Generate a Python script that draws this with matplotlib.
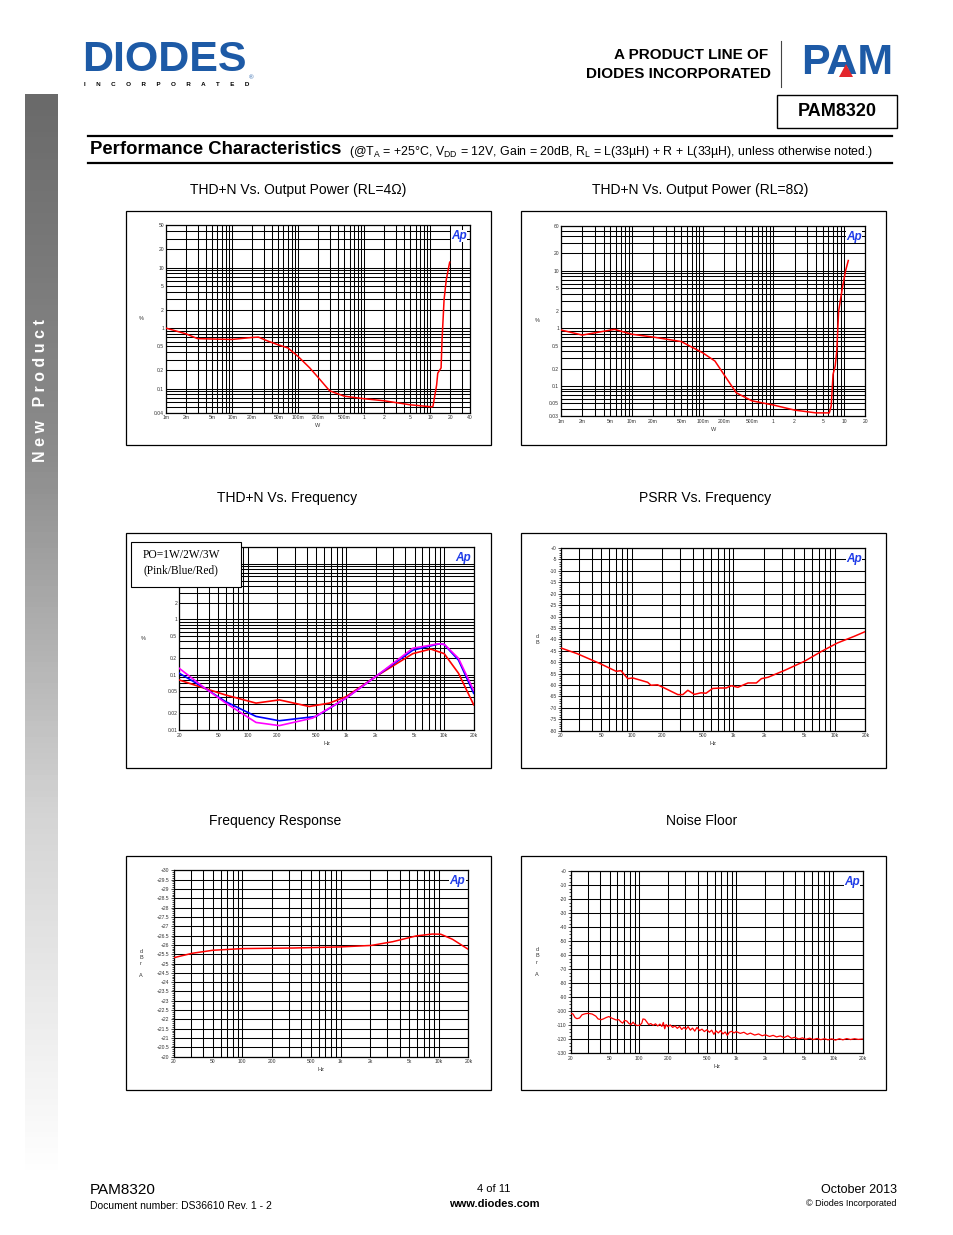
import numpy as np
import matplotlib
matplotlib.use("Agg")
import matplotlib.pyplot as plt
from matplotlib.patches import Rectangle, Polygon
from matplotlib.ticker import FixedLocator, LogLocator, NullFormatter, MultipleLocator
from matplotlib.colors import LinearSegmentedColormap

plt.rcParams['font.family'] = ['Liberation Sans', 'DejaVu Sans']
plt.rcParams['mathtext.default'] = 'regular'

# ---- data ----
# THD+N vs output power, RL=4 ohm
p4_w = [0.001, 0.002, 0.003, 0.005, 0.01, 0.02, 0.025, 0.035, 0.05, 0.07, 0.1, 0.15, 0.2, 0.3,
        0.5, 1, 2, 5, 10.5, 11, 12.5, 13, 14.6, 15.1, 16.2, 17.5, 19.7]
p4_thd = [1.0, 0.805, 0.67, 0.66, 0.65, 0.70, 0.71, 0.61, 0.53, 0.47, 0.34, 0.22, 0.154, 0.092,
          0.075, 0.068, 0.063, 0.054, 0.05, 0.051, 0.115, 0.18, 0.22, 0.64, 2.95, 6.3, 12.3]

# THD+N vs output power, RL=8 ohm
p8_w = [0.001, 0.002, 0.0057, 0.01, 0.02, 0.05, 0.1, 0.15, 0.2, 0.3, 0.5, 1, 2, 4, 6.2,
        6.6, 7.0, 7.5, 7.9, 8.4, 9.5, 10.5, 11.5]
p8_thd = [0.935, 0.765, 0.96, 0.79, 0.706, 0.59, 0.378, 0.27, 0.159, 0.076, 0.055, 0.0466, 0.038,
          0.034, 0.034, 0.045, 0.159, 0.22, 0.40, 2.0, 5.1, 9.9, 15.1]

# THD+N vs frequency (1W pink, 2W blue, 3W red)
f_red = [20, 37, 59, 121, 209, 422, 675, 1000, 2000, 4800, 7300, 10000, 14000, 20000]
thd_red = [0.080, 0.056, 0.043, 0.0306, 0.035, 0.0266, 0.0306, 0.040, 0.092, 0.24, 0.29, 0.24, 0.106, 0.0285]
f_blue = [20, 37, 59, 121, 209, 496, 1000, 2000, 4800, 8900, 10000, 14000, 20000]
thd_blue = [0.106, 0.056, 0.0327, 0.0176, 0.0147, 0.0176, 0.0376, 0.092, 0.277, 0.36, 0.35, 0.183, 0.046]
f_pink = [20, 37, 59, 121, 209, 456, 1000, 2000, 4800, 8600, 10000, 14000, 20000]
thd_pink = [0.13, 0.056, 0.031, 0.0137, 0.0120, 0.0164, 0.0376, 0.092, 0.30, 0.36, 0.355, 0.197, 0.052]

# PSRR vs frequency
psrr_f = [20, 29, 49, 70, 78, 91, 102, 143, 154, 179, 209, 284, 318, 356, 413, 481, 538, 626,
          755, 849, 955, 1109, 1394, 1686, 1892, 2199, 3199, 5024, 7310, 10600, 15500, 20000]
psrr_db = [-43.8, -46.3, -50.7, -54.0, -53.7, -57.2, -56.9, -58.8, -60.1, -59.9, -61.3, -64.2,
           -64.2, -62.3, -64.1, -63.4, -63.6, -61.5, -61.3, -61.3, -60.3, -61.0, -59.1, -59.1,
           -57.2, -56.6, -53.6, -49.6, -45.4, -41.6, -38.7, -36.6]

# Frequency response
fr_f = [20, 31, 50, 101, 326, 1000, 2060, 3400, 5900, 8600, 10500, 13800, 20000]
fr_db = [25.31, 25.55, 25.71, 25.80, 25.83, 25.89, 25.97, 26.17, 26.48, 26.58, 26.57, 26.30, 25.76]

# Noise floor
nf_f = [20, 21, 22, 23, 24.5, 26, 28, 30, 33, 36, 38, 41, 43, 46, 49, 52, 55, 58, 62, 65, 68, 71,
        75, 79, 83, 87, 91, 96, 102, 107, 110, 115, 120, 126, 132, 140, 148, 156, 164, 172, 178,
        184, 190, 198, 210, 222, 235, 248, 262, 275, 290, 305, 320, 338, 355, 375, 395, 420, 445,
        470, 500, 530, 560, 590, 620, 655, 690, 730, 770, 810, 850, 900, 950, 1000, 1100, 1200,
        1300, 1400, 1550, 1700, 1850, 2000, 2200, 2400, 2600, 2850, 3100, 3400, 3700, 4000, 4400,
        4800, 5200, 5700, 6200, 6800, 7400, 8100, 8800, 9600, 10500, 11500, 12500, 13700, 15000,
        16500, 18000, 20000]
nf_db = [-101.5, -102, -104.5, -105.3, -104.8, -102.5, -101.8, -101.5, -102, -103.5, -105.5, -106,
         -105.5, -104.5, -103.8, -104.8, -105.5, -106.2, -106, -107.5, -108.5, -106.5, -107, -108.8,
         -109.5, -107.8, -109.5, -110.2, -110, -108.5, -105.5, -105.8, -107.5, -109.5, -108.8, -110,
         -109, -110.5, -109.2, -110.8, -108, -112.5, -109.5, -111, -109.8, -111.5, -110.5, -112.2,
         -110.8, -113, -111.5, -112.8, -111, -113.5, -112, -114.2, -111.5, -113.8, -112.8, -114.5,
         -113.2, -115, -113.5, -116.5, -114, -115.5, -113.8, -116.2, -114.8, -117.2, -115, -114.3,
         -115.5, -114.5, -115.8, -115, -116.5, -115.6, -117, -116.2, -117.5, -116.8, -118, -117.2,
         -118.3, -117.6, -118.8, -117.5, -119.3, -118.6, -119.8, -119, -120, -119.2, -120.2, -119.4,
         -120.3, -119.6, -120.4, -119.7, -120.6, -119.6, -120.4, -119.5, -120.2, -119.6, -120.1, -119.8]

hz_ticks = [20, 50, 100, 200, 500, 1000, 2000, 5000, 10000, 20000]
hz_labels = ['20', '50', '100', '200', '500', '1k', '2k', '5k', '10k', '20k']

W, H = 954, 1235
fig = plt.figure(figsize=(W / 100, H / 100), dpi=100)


def px_ax(x0, y0, x1, y1, **kw):
    return fig.add_axes([x0 / W, 1 - y1 / H, (x1 - x0) / W, (y1 - y0) / H], **kw)


def ftext(x, y, s, **kw):
    fig.text(x / W, 1 - y / H, s, **kw)


def frame(x0, y0, x1, y1, lw=0.9, fc='none', z=1):
    fig.add_artist(Rectangle((x0 / W, 1 - y1 / H), (x1 - x0) / W, (y1 - y0) / H,
                             transform=fig.transFigure, fill=(fc != 'none'), fc=fc,
                             ec='black', lw=lw, zorder=z))


def setup(ax, xlim, ylim, xt, xtl, yt, ytl, xlab, ylab, ylab_x, ylog=True, yminor=None):
    ax.set_xscale('log')
    if ylog:
        ax.set_yscale('log')
    ax.set_xlim(*xlim)
    ax.set_ylim(*ylim)
    ax.xaxis.set_major_locator(FixedLocator(xt))
    ax.set_xticklabels(xtl)
    ax.xaxis.set_minor_locator(LogLocator(10, subs=np.arange(1, 10), numticks=60))
    ax.xaxis.set_minor_formatter(NullFormatter())
    ax.yaxis.set_major_locator(FixedLocator(yt))
    ax.set_yticklabels(ytl)
    if ylog:
        ax.yaxis.set_minor_locator(LogLocator(10, subs=np.arange(1, 10), numticks=60))
        ax.yaxis.set_minor_formatter(NullFormatter())
        ax.grid(True, which='both', color='black', lw=0.75)
        ax.tick_params(axis='y', which='both', length=0, pad=1.5)
    else:
        ax.yaxis.set_minor_locator(MultipleLocator(yminor))
        ax.grid(True, which='major', axis='y', color='black', lw=0.75)
        ax.grid(True, which='both', axis='x', color='black', lw=0.75)
        ax.tick_params(axis='y', which='minor', length=1.5, width=0.5, direction='out')
        ax.tick_params(axis='y', which='major', length=2, width=0.5, pad=1.0)
    ax.tick_params(axis='x', which='both', length=0, pad=2)
    ax.tick_params(labelsize=3.6, labelcolor='#333333')
    for s in ax.spines.values():
        s.set_linewidth(0.9)
    ax.set_xlabel(xlab, fontsize=4, labelpad=2, color='#333333')
    bb = ax.get_position()
    fig.text(ylab_x / W, (bb.y0 + bb.y1) / 2, ylab, fontsize=4, ha='center', va='center',
             color='#333333', linespacing=1.3)
    ax.text(0.99, 0.975, 'Ap', transform=ax.transAxes, ha='right', va='top', color='#1f3ce8',
            fontsize=8.5, fontweight='bold', fontstyle='italic', zorder=5,
            bbox=dict(fc='white', ec='none', pad=0.2))


# ---- chart 1 ----
frame(126, 211, 491, 445)
ax1 = px_ax(166, 225.3, 470, 412.7)
setup(ax1, (0.001, 40), (0.04, 50),
      [0.001, 0.002, 0.005, 0.01, 0.02, 0.05, 0.1, 0.2, 0.5, 1, 2, 5, 10, 20, 40],
      ['1m', '2m', '5m', '10m', '20m', '50m', '100m', '200m', '500m', '1', '2', '5', '10', '20', '40'],
      [0.04, 0.1, 0.2, 0.5, 1, 2, 5, 10, 20, 50], ['0.04', '0.1', '0.2', '0.5', '1', '2', '5', '10', '20', '50'],
      'W', '%', 141)
ax1.plot(p4_w, p4_thd, color='#ff0000', lw=1.1, zorder=4)

# ---- chart 2 ----
frame(521, 211, 886, 445)
ax2 = px_ax(561, 226, 865.3, 416)
setup(ax2, (0.001, 20), (0.03, 60),
      [0.001, 0.002, 0.005, 0.01, 0.02, 0.05, 0.1, 0.2, 0.5, 1, 2, 5, 10, 20],
      ['1m', '2m', '5m', '10m', '20m', '50m', '100m', '200m', '500m', '1', '2', '5', '10', '20'],
      [0.03, 0.05, 0.1, 0.2, 0.5, 1, 2, 5, 10, 20, 60],
      ['0.03', '0.05', '0.1', '0.2', '0.5', '1', '2', '5', '10', '20', '60'],
      'W', '%', 537)
ax2.plot(p8_w, p8_thd, color='#ff0000', lw=1.1, zorder=4)

# ---- chart 3 ----
frame(126, 533, 491, 768)
ax3 = px_ax(179.3, 547.3, 473.7, 730)
setup(ax3, (20, 20000), (0.01, 20), hz_ticks, hz_labels,
      [0.01, 0.02, 0.05, 0.1, 0.2, 0.5, 1, 2], ['0.01', '0.02', '0.05', '0.1', '0.2', '0.5', '1', '2'],
      'Hz', '%', 143)
ax3.plot(f_red, thd_red, color='#ff0000', lw=1.2, zorder=4)
ax3.plot(f_blue, thd_blue, color='#0000ff', lw=1.2, zorder=4)
ax3.plot(f_pink, thd_pink, color='#ff00ff', lw=1.2, zorder=4)
frame(131, 542, 241, 587, lw=0.8, fc='white', z=5)
ftext(143, 555, 'PO=1W/2W/3W', fontsize=8.3, family='Liberation Serif', va='center', zorder=6)
ftext(143, 570, '(Pink/Blue/Red)', fontsize=8.3, family='Liberation Serif', va='center', zorder=6)

# ---- chart 4 ----
frame(521, 533, 886, 768)
ax4 = px_ax(561, 548, 865.3, 730.7)
yt4 = list(range(0, -85, -5))
setup(ax4, (20, 20000), (-80, 0), hz_ticks, hz_labels,
      yt4, ['+0'] + [str(v) for v in yt4[1:]], 'Hz', 'd\nB', 537, ylog=False, yminor=1)
ax4.plot(psrr_f, psrr_db, color='#ff0000', lw=1.1, zorder=4)

# ---- chart 5 ----
frame(126, 856, 491, 1090)
ax5 = px_ax(173.7, 870.3, 468.3, 1056.7)
yt5 = list(np.arange(20, 30.01, 0.5))
setup(ax5, (20, 20000), (20, 30), hz_ticks, hz_labels,
      yt5, ['+%g' % v for v in yt5], 'Hz', 'd\nB\nr\n\nA', 141, ylog=False, yminor=0.1)
ax5.plot(fr_f, fr_db, color='#ff0000', lw=1.1, zorder=4)

# ---- chart 6 ----
frame(521, 856, 886, 1090)
ax6 = px_ax(571, 871, 862.7, 1053.3)
yt6 = list(range(0, -135, -10))
setup(ax6, (20, 20000), (-130, 0), hz_ticks, hz_labels,
      yt6, ['+0'] + [str(v) for v in yt6[1:]], 'Hz', 'd\nB\nr\n\nA', 537, ylog=False, yminor=2.5)
ax6.plot(nf_f, nf_db, color='#ff0000', lw=0.9, zorder=4)

# ---- chart titles ----
ftext(298, 190, 'THD+N Vs. Output Power (RL=4\u03a9)', fontsize=10, ha='center', va='center')
ftext(700, 190, 'THD+N Vs. Output Power (RL=8\u03a9)', fontsize=10, ha='center', va='center')
ftext(287, 498, 'THD+N Vs. Frequency', fontsize=10, ha='center', va='center')
ftext(705, 498, 'PSRR Vs. Frequency', fontsize=10, ha='center', va='center')
ftext(275, 821, 'Frequency Response', fontsize=10, ha='center', va='center')
ftext(702, 821, 'Noise Floor', fontsize=10, ha='center', va='center')

# ---- header ----
blue = '#1d5aa6'
ftext(82, 60, 'DIODES', fontsize=31, fontweight='bold', color=blue, va='center', ha='left')
fig.add_artist(plt.Line2D([84 / W, 250 / W], [1 - 62 / H, 1 - 62 / H], color='white', lw=1.2,
                          transform=fig.transFigure, zorder=3))
ftext(84, 84, 'I      N      C      O      R      P      O      R      A      T      E      D',
      fontsize=4.5, fontweight='bold', va='center', ha='left')
ftext(249, 78, '\u00ae', fontsize=4.5, color=blue, va='center')
ftext(768, 55, 'A PRODUCT LINE OF', fontsize=11, fontweight='bold', ha='right', va='center')
ftext(771, 74, 'DIODES INCORPORATED', fontsize=11, fontweight='bold', ha='right', va='center')
fig.add_artist(plt.Line2D([781 / W, 781 / W], [1 - 41 / H, 1 - 87 / H], color='#444444', lw=0.8,
                          transform=fig.transFigure))
ftext(847, 63, 'PAM', fontsize=31, fontweight='bold', color=blue, ha='center', va='center')
fig.add_artist(Polygon([[846 / W, 1 - 64 / H], [839 / W, 1 - 77 / H], [853 / W, 1 - 77 / H]],
                       closed=True, fc='#e3262c', ec='none', transform=fig.transFigure, zorder=4))
frame(777, 95, 897, 128, lw=1.0)
ftext(837, 112, 'PAM8320', fontsize=13, fontweight='bold', ha='center', va='center')

fig.add_artist(plt.Line2D([88 / W, 892 / W], [1 - 136 / H, 1 - 136 / H], color='black', lw=1.6,
                          transform=fig.transFigure))
fig.add_artist(plt.Line2D([88 / W, 892 / W], [1 - 163 / H, 1 - 163 / H], color='black', lw=1.6,
                          transform=fig.transFigure))
ftext(90, 150, 'Performance Characteristics', fontsize=13.3, fontweight='bold', va='center')
ftext(349, 152, '(@T$_A$ = +25\u00b0C, V$_{DD}$ = 12V, Gain = 20dB, R$_L$ = L(33\u00b5H) + R + '
      'L(33\u00b5H), unless otherwise noted.)', fontsize=8.9, va='center')

# ---- side bar ----
side = px_ax(25, 94, 58, 1175)
cmap = LinearSegmentedColormap.from_list('side', ['#6a6a6a', '#8c8c8c', '#d4d4d4', '#ffffff'])
side.imshow(np.linspace(0, 1, 200).reshape(-1, 1), aspect='auto', cmap=cmap, extent=(0, 1, 1, 0))
side.axis('off')
ftext(41, 391, 'N e w   P r o d u c t', fontsize=11.5, fontweight='bold', color='white',
      rotation=90, ha='center', va='center')

# ---- footer ----
ftext(90, 1190, 'PAM8320', fontsize=11, va='center')
ftext(90, 1206, 'Document number: DS36610 Rev. 1 - 2', fontsize=7.5, va='center')
ftext(494, 1189, '4 of 11', fontsize=8, ha='center', va='center')
ftext(494, 1204, 'www.diodes.com', fontsize=8, fontweight='bold', ha='center', va='center')
ftext(897, 1190, 'October 2013', fontsize=9, ha='right', va='center')
ftext(897, 1204, '\u00a9 Diodes Incorporated', fontsize=6.5, ha='right', va='center')

fig.savefig('out.png', dpi=100)
